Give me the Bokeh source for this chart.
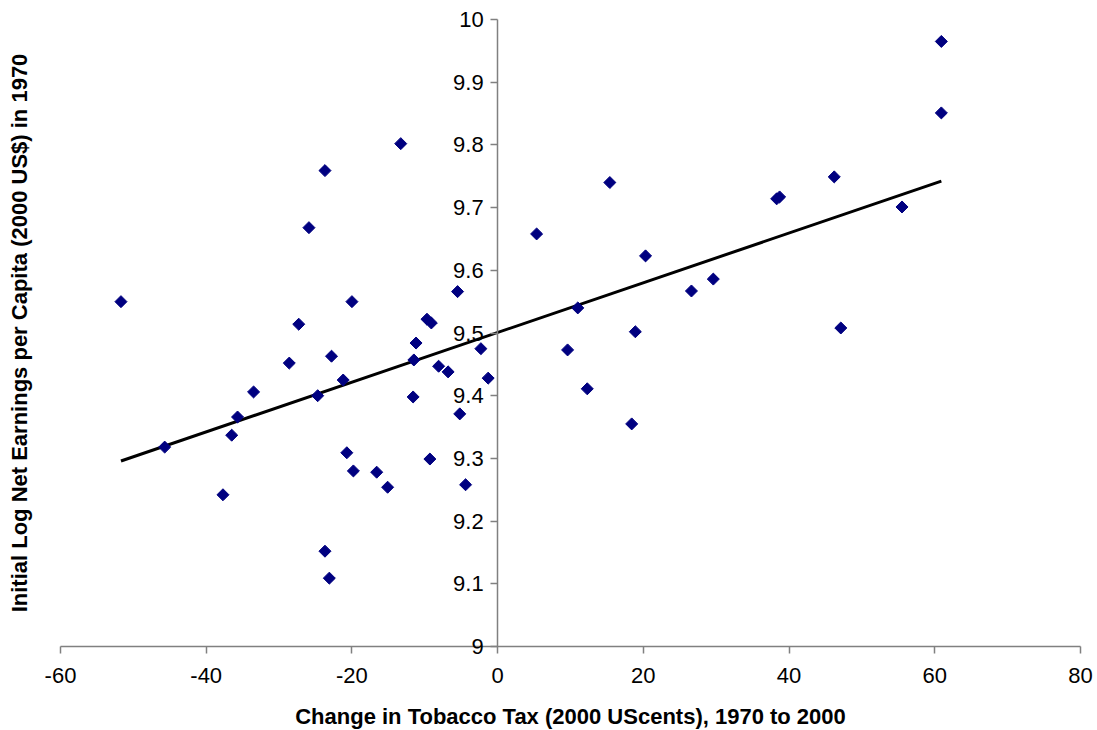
import numpy as np
from bokeh.plotting import figure
from bokeh.models import Range1d, FixedTicker, Label
from bokeh.embed import file_html
from bokeh.resources import INLINE

# Change in tobacco tax (2000 US cents), 1970 to 2000
tax_change = [-51.7, -45.7, -37.7, -36.5, -35.7, -33.5, -28.6, -27.3, -25.9, -24.7,
              -23.7, -23.7, -23.1, -22.8, -21.2, -20.7, -20.0, -19.8, -16.6, -15.1,
              -13.3, -11.6, -11.5, -11.2, -9.7, -9.3, -9.1, -8.1, -6.8, -5.5,
              -5.2, -4.4, -2.3, -1.3, 5.35, 9.6, 11.0, 12.3, 15.4, 18.4,
              18.9, 20.3, 26.6, 29.6, 38.3, 38.7, 46.2, 47.1, 55.5, 60.9, 60.9]
# Initial log net earnings per capita (2000 US$) in 1970
log_earnings = [9.550, 9.318, 9.242, 9.337, 9.366, 9.406, 9.452, 9.514, 9.668, 9.400,
                9.759, 9.152, 9.109, 9.463, 9.425, 9.309, 9.550, 9.280, 9.278, 9.254,
                9.802, 9.398, 9.457, 9.484, 9.522, 9.299, 9.516, 9.447, 9.438, 9.566,
                9.371, 9.258, 9.475, 9.428, 9.658, 9.473, 9.540, 9.411, 9.740, 9.355,
                9.502, 9.623, 9.567, 9.586, 9.714, 9.717, 9.749, 9.508, 9.701, 9.851, 9.965]

x_ticks = [-60, -40, -20, 0, 20, 40, 60, 80]
x_tick_labels = ["-60", "-40", "-20", "0", "20", "40", "60", "80"]
y_ticks = [9.0, 9.1, 9.2, 9.3, 9.4, 9.5, 9.6, 9.7, 9.8, 9.9, 10.0]
y_tick_labels = ["9", "9.1", "9.2", "9.3", "9.4", "9.5", "9.6", "9.7", "9.8", "9.9", "10"]
x_bounds = (-60, 80)
y_bounds = (9, 10)

x_title = "Change in Tobacco Tax (2000 UScents), 1970 to 2000"
y_title = "Initial Log Net Earnings per Capita (2000 US$) in 1970"

FONT = "Liberation Sans"
AXIS_GRAY = "#808080"

# pixel layout: axis box x -60..80 -> 60..1080 px, y 9..10 -> 646..19 px
W, H = 1097, 730
px_per_x = 1020 / (x_bounds[1] - x_bounds[0])
px_per_y = 627 / (y_bounds[1] - y_bounds[0])
x_lo = x_bounds[0] - 60 / px_per_x
x_hi = x_bounds[1] + (W - 1080) / px_per_x
y_lo = y_bounds[0] - (H - 646) / px_per_y
y_hi = y_bounds[1] + 19 / px_per_y

p = figure(frame_width=W, frame_height=H,
           x_range=Range1d(x_lo, x_hi), y_range=Range1d(y_lo, y_hi),
           output_backend="svg", toolbar_location=None,
           min_border_left=0, min_border_right=0, min_border_top=0,
           min_border_bottom=0)
p.outline_line_color = None
p.xgrid.visible = False
p.ygrid.visible = False
p.background_fill_color = "white"
p.border_fill_color = "white"

# x axis crossing at y = 9
xa = p.xaxis[0]
xa.fixed_location = y_bounds[0]
xa.bounds = x_bounds
xa.ticker = FixedTicker(ticks=x_ticks)
xa.major_label_overrides = dict(zip(x_ticks, x_tick_labels))
xa.axis_line_color = AXIS_GRAY
xa.axis_line_width = 1.5
xa.major_tick_line_color = AXIS_GRAY
xa.major_tick_line_width = 1.5
xa.major_tick_out = 7
xa.major_tick_in = 0
xa.minor_tick_line_color = None
xa.major_label_text_font = FONT
xa.major_label_text_font_size = "22px"
xa.major_label_text_color = "black"
xa.major_label_standoff = 14
xa.axis_label = x_title
xa.axis_label_text_font = FONT
xa.axis_label_text_font_size = "22px"
xa.axis_label_text_font_style = "bold"
xa.axis_label_text_color = "black"
xa.axis_label_standoff = 18

# y axis crossing at x = 0
ya = p.yaxis[0]
ya.fixed_location = 0
ya.bounds = y_bounds
ya.ticker = FixedTicker(ticks=y_ticks)
ya.major_label_overrides = dict(zip(y_ticks, y_tick_labels))
ya.axis_line_color = AXIS_GRAY
ya.axis_line_width = 1.5
ya.major_tick_line_color = AXIS_GRAY
ya.major_tick_line_width = 1.5
ya.major_tick_out = 7
ya.major_tick_in = 0
ya.minor_tick_line_color = None
ya.major_label_text_font = FONT
ya.major_label_text_font_size = "22px"
ya.major_label_text_color = "black"
ya.major_label_standoff = 7

# y axis title at the far left, centred on the 9..10 span
ytitle = Label(x=x_lo + 18.5 / px_per_x, y=(y_bounds[0] + y_bounds[1]) / 2,
               text=y_title, angle=np.pi / 2, text_align="center",
               text_baseline="middle", text_font=FONT, text_font_size="22px",
               text_font_style="bold", text_color="black")
p.add_layout(ytitle)

# trend line (least squares fit of the data)
xs = np.array(tax_change)
ys = np.array(log_earnings)
slope, intercept = np.polyfit(xs, ys, 1)
lx = [xs.min(), xs.max()]
ly = [intercept + slope * v for v in lx]
p.line(lx, ly, line_color="black", line_width=3)

p.scatter(tax_change, log_earnings, marker="square", size=8.5, angle=np.pi / 4,
          fill_color="#000080", line_color="#000080")

open("out.html", "w").write(file_html(p, INLINE))
